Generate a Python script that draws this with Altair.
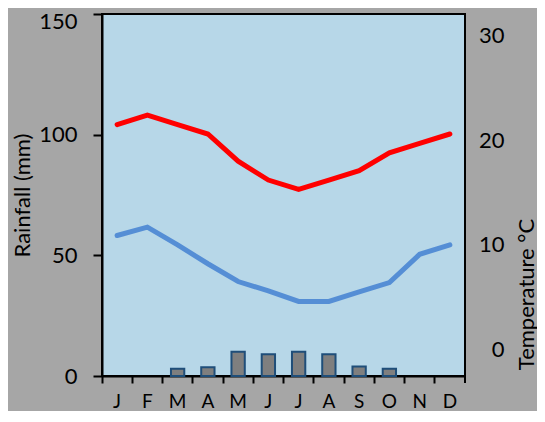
import altair as alt
import pandas as pd

# ---- data ----
month_keys = ["Jan", "Feb", "Mar", "Apr", "May", "Jun", "Jul", "Aug", "Sep", "Oct", "Nov", "Dec"]
rainfall_mm = [0, 0, 3.0, 3.6, 10.0, 9.0, 10.0, 9.0, 3.9, 3.0, 0, 0]
temp_max = [21.5, 22.4, 21.5, 20.6, 18.0, 16.2, 15.3, 16.2, 17.1, 18.8, 19.7, 20.6]
temp_min = [10.9, 11.7, 10.0, 8.2, 6.5, 5.6, 4.6, 4.6, 5.5, 6.4, 9.1, 10.0]
rain_ticks = [0, 50, 100, 150]
temp_ticks = [0, 10, 20, 30]

df = pd.DataFrame({
    "month": month_keys,
    "rain": rainfall_mm,
    "tmax": temp_max,
    "tmin": temp_min,
})

FONT = "Lato"

x_enc = alt.X(
    "month:N",
    sort=month_keys,
    scale=alt.Scale(paddingInner=0, paddingOuter=0),
    axis=alt.Axis(
        title=None, labelAngle=0, labelExpr="substring(datum.label, 0, 1)",
        bandPosition=0, tickSize=7, tickWidth=2, tickColor="black",
        domainColor="black", domainWidth=2, labelFontSize=19, labelPadding=9,
        labelColor="black", labelFont=FONT,
    ),
)

bars = alt.Chart(df).transform_filter("datum.rain > 0").mark_bar(
    width=alt.RelativeBandSize(0.44), color="#7f7f7f", stroke="#1f4e79", strokeWidth=2
).encode(
    x=x_enc,
    y=alt.Y(
        "rain:Q",
        scale=alt.Scale(domain=[0, 150], nice=False),
        axis=alt.Axis(
            values=rain_ticks, grid=False, tickSize=9, tickWidth=2, tickColor="black",
            domainColor="black", domainWidth=2, labelPadding=16, labelFontSize=22,
            labelOffset=alt.condition("datum.value == 150", alt.value(7), alt.value(0)),
            labelColor="black", labelFont=FONT, title="Rainfall (mm)", titleFontSize=22,
            titleFontWeight="normal", titleFont=FONT, titleColor="black", titlePadding=4,
        ),
    ),
)

lines = alt.Chart(df).transform_fold(
    ["tmax", "tmin"], as_=["series", "temp"]
).mark_line(strokeWidth=5, strokeCap="round").encode(
    x=alt.X("month:N", sort=month_keys),
    y=alt.Y(
        "temp:Q",
        scale=alt.Scale(domain=[-2.53, 32.07], nice=False, zero=False),
        axis=alt.Axis(
            orient="right", values=temp_ticks, grid=False, ticks=False, tickSize=0,
            domain=False, labelAlign="right", labelPadding=39, labelFontSize=22,
            labelColor="black", labelFont=FONT, title="Temperature °C", titleAngle=270,
            titleFontSize=22, titleFontWeight="normal", titleFont=FONT, titleColor="black",
            titlePadding=34, titleY=280,
        ),
    ),
    color=alt.Color(
        "series:N",
        scale=alt.Scale(domain=["tmax", "tmin"], range=["#ff0000", "#558ed5"]),
        legend=None,
    ),
)

end_tick = alt.Chart(df.head(1)).mark_rule(color="black", strokeWidth=2).encode(
    x=alt.value(363), y=alt.value(362), y2=alt.value(369)
)

chart = alt.layer(bars, lines, end_tick).resolve_scale(y="independent").properties(
    width=363,
    height=362,
    autosize=alt.AutoSizeParams(type="none"),
    padding={"left": 94, "top": 6, "right": 72, "bottom": 35},
    background="#a6a6a6",
).configure_view(
    fill="#b7d7e8", stroke="black", strokeWidth=2
)

chart.save("out.html", embed_options={"renderer": "svg", "actions": False})
